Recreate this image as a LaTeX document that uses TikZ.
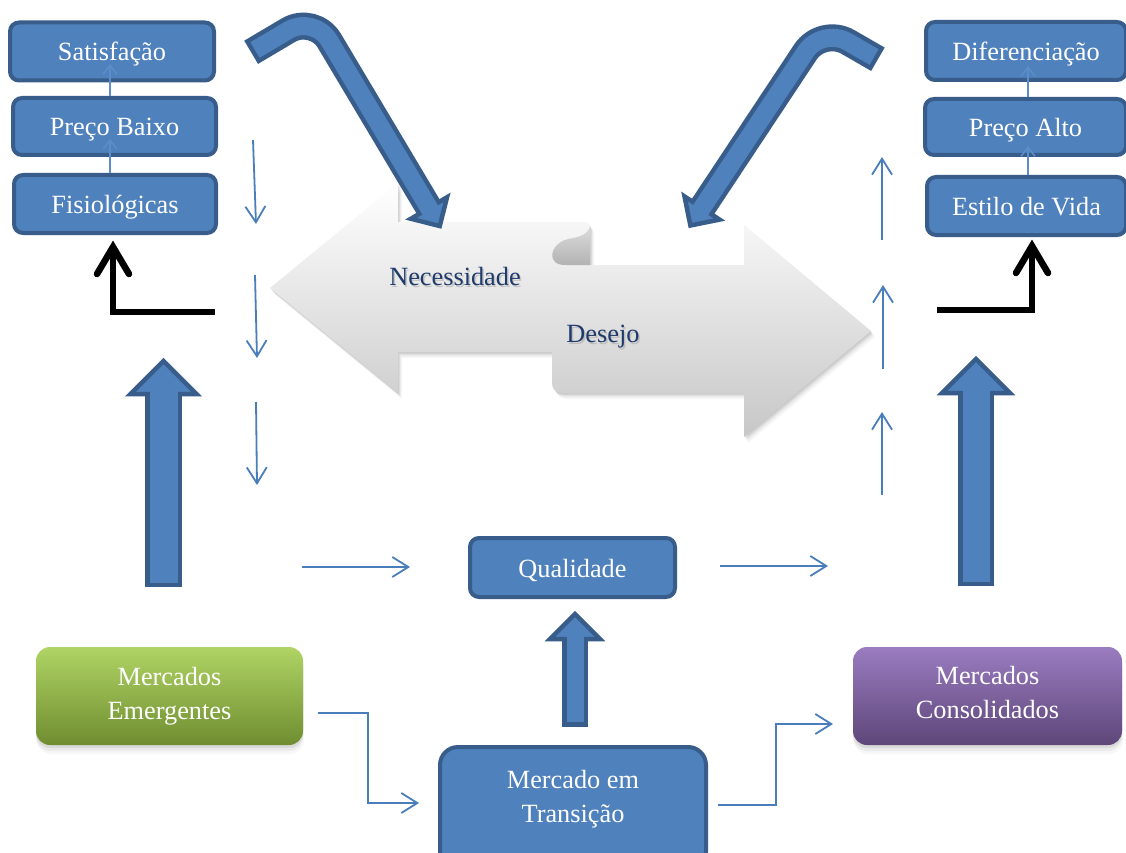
\documentclass[tikz,border=0pt]{standalone}
\usepackage{fontspec}
\setmainfont{Liberation Serif}
\usetikzlibrary{arrows.meta,calc,shadows}

\definecolor{fillblue}{HTML}{4F81BD}
\definecolor{bordblue}{HTML}{385D8A}
\definecolor{thinblue}{HTML}{4A7EBB}
\definecolor{faintblue}{HTML}{5B8DCA}
\definecolor{darktext}{HTML}{1F3B6B}
\definecolor{greentop}{HTML}{B0D465}
\definecolor{greenmid}{HTML}{9BBB59}
\definecolor{greenbot}{HTML}{6F8D30}
\definecolor{purptop}{HTML}{9A7CC0}
\definecolor{purpmid}{HTML}{8064A2}
\definecolor{purpbot}{HTML}{5E4679}

\newcommand\boxfont{\fontsize{26.3}{34}\selectfont}

\tikzset{
  bluebox/.style={draw=bordblue, fill=fillblue, line width=4pt, rounded corners=9pt,
    text=white, font=\boxfont, align=center, inner sep=0pt},
  oneline/.style={text height=24pt, text depth=5pt},
  glossshadow/.style={
    drop shadow={shadow xshift=0pt, shadow yshift=-3pt, opacity=0.15},
    drop shadow={shadow xshift=0pt, shadow yshift=-6pt, opacity=0.10},
    drop shadow={shadow xshift=1pt, shadow yshift=-9pt, opacity=0.06}},
  greenbox/.style={glossshadow, rounded corners=14pt, top color=greentop, middle color=greenmid,
    bottom color=greenbot, text=white, font=\boxfont, align=center, inner sep=0pt},
  purplebox/.style={glossshadow, rounded corners=14pt, top color=purptop, middle color=purpmid,
    bottom color=purpbot, inner sep=0pt},
  whitetext/.style={text=white, font=\boxfont, align=center, inner sep=0pt},
  thinarr/.style={draw=thinblue, line width=1.8pt, -{Straight Barb[length=16pt,width=20pt]}},
  innerarr/.style={draw=faintblue, line width=1.6pt, -{Straight Barb[length=9pt,width=14pt]}},
  blackL/.style={draw=black, line width=6.5pt, line join=miter},
  blackLshadow/.style={draw=black!45, opacity=0.45, line width=6.5pt, line join=miter, shift={(2,4)}},
  darklabel/.style={text=darktext, font=\boxfont, inner sep=0pt},
  labelshadow/.style={text=black!40, opacity=0.45, font=\boxfont, inner sep=0pt},
  % outline of the two overlapping light arrows (left-pointing and right-pointing)
  dblpath/.style={insert path={
    (270,288) -- (398,183) -- (398,222) -- (584,222)
      .. controls (588,222) and (590,224) .. (590,229) -- (590,352) -- (398,352) -- (398,393) -- cycle
    (552,265) -- (744,265) -- (744,225) -- (871,331) -- (744,437) -- (744,393) -- (562,393)
      .. controls (556,393) and (552,389) .. (552,383) -- cycle}}
}

% block arrow: #1 tail, #2 bend, #3 head base, #4 head length, #5 shaft width, #6 head half-width
\newcommand\blockarrow[6]{%
  \coordinate (tipcoord) at ($(#3)!-#4pt!(#2)$);
  \draw[draw=bordblue, line width={#5pt+9pt}, rounded corners=30pt]
    ($(#1)!-4.5pt!(#2)$) -- (#2) -- (#3);
  \filldraw[fill=fillblue, draw=bordblue, line width=4.5pt, line join=miter]
    (tipcoord) -- ($(#3)!#6pt!90:(tipcoord)$) -- ($(#3)!#6pt!-90:(tipcoord)$) -- cycle;
  \draw[draw=fillblue, line width=#5pt, rounded corners=30pt]
    (#1) -- (#2) -- ($(#3)!4pt!(tipcoord)$);
}

\begin{document}
\begin{tikzpicture}[x=1pt,y=-1pt]
\useasboundingbox (0,0) rectangle (1126,853);
\clip (0,0) rectangle (1126,853);
\fill[white] (0,0) rectangle (1126,853);

% ---- light double arrow: Necessidade / Desejo ----
\foreach \s/\o in {1/0.05,2/0.05,3/0.05,4.5/0.04,6/0.03}
  {\fill[black, opacity=\o, shift={(\s*0.7,\s)}, dblpath];}
\shade[top color=white, bottom color=black!22, dblpath];
% rolled corner of the upper arrow
\shade[top color=black!14, bottom color=black!30]
  (590,227) .. controls (586,236) and (578,237) .. (568,239)
  .. controls (556,242) and (550,252) .. (553,259)
  .. controls (555,264) and (560,265) .. (566,265) -- (590,265) -- cycle;

\node[labelshadow] (necsh) at (456.5,279) {Necessidade};
\node[darklabel] (nec) at (455,277) {Necessidade};
\node[labelshadow] (dessh) at (604.5,339) {Desejo};
\node[darklabel] (des) at (603,337) {Desejo};

% ---- stacked boxes, left ----
\node[bluebox, oneline, minimum width=204pt, minimum height=58pt] (sat) at (112,51.5) {Satisfação};
\node[bluebox, oneline, minimum width=203pt, minimum height=57pt] (pb) at (114.5,126.5) {Preço Baixo};
\node[bluebox, oneline, minimum width=202pt, minimum height=58pt] (fis) at (115,204) {Fisiológicas};
\coordinate (lc1) at (110,173); \coordinate (lc1t) at (110,139);
\coordinate (lc2) at (110,96);  \coordinate (lc2t) at (110,64);
\draw[innerarr] (lc1) -- (lc1t);
\draw[innerarr] (lc2) -- (lc2t);

% ---- stacked boxes, right ----
\node[bluebox, oneline, minimum width=200pt, minimum height=58pt] (dif) at (1026,51) {Diferenciação};
\node[bluebox, oneline, minimum width=201pt, minimum height=56pt] (pa) at (1025.5,127) {Preço Alto};
\node[bluebox, oneline, minimum width=199pt, minimum height=58pt] (ev) at (1026.5,206) {Estilo de Vida};
\coordinate (rc1) at (1028,175); \coordinate (rc1t) at (1028,146);
\coordinate (rc2) at (1028,97);  \coordinate (rc2t) at (1028,66);
\draw[innerarr] (rc1) -- (rc1t);
\draw[innerarr] (rc2) -- (rc2t);

% ---- bent block arrows ----
\coordinate (lbT) at (255,50); \coordinate (lbB) at (314,15); \coordinate (lbH) at (429,208);
\blockarrow{lbT}{lbB}{lbH}{21}{18}{21}
\coordinate (rbT) at (874,57); \coordinate (rbB) at (822,27); \coordinate (rbH) at (702,208);
\blockarrow{rbT}{rbB}{rbH}{21}{18}{21}

% ---- big upward block arrows ----
\coordinate (luT) at (163.5,582.5); \coordinate (luM) at (163.5,490); \coordinate (luH) at (163.5,394);
\blockarrow{luT}{luM}{luH}{33}{28}{33}
\coordinate (ruT) at (976,581.5); \coordinate (ruM) at (976,490); \coordinate (ruH) at (976,393);
\blockarrow{ruT}{ruM}{ruH}{34}{27}{34}

% ---- black elbow arrows ----
\coordinate (lLa) at (215,312); \coordinate (lLb) at (113,312); \coordinate (lLc) at (113,247);
\draw[blackLshadow] (lLa) -- (lLb) -- (lLc);
\draw[blackLshadow, line cap=round] ($(lLc)+(-16,27)$) -- (lLc) -- ($(lLc)+(16,27)$);
\draw[blackL] (lLa) -- (lLb) -- (lLc);
\draw[blackL, line cap=round] ($(lLc)+(-16,27)$) -- (lLc) -- ($(lLc)+(16,27)$);

\coordinate (rLa) at (937,310); \coordinate (rLb) at (1032,310); \coordinate (rLc) at (1032,246);
\draw[blackLshadow] (rLa) -- (rLb) -- (rLc);
\draw[blackLshadow, line cap=round] ($(rLc)+(-16,27)$) -- (rLc) -- ($(rLc)+(16,27)$);
\draw[blackL] (rLa) -- (rLb) -- (rLc);
\draw[blackL, line cap=round] ($(rLc)+(-16,27)$) -- (rLc) -- ($(rLc)+(16,27)$);

% ---- thin arrows: downward column (left) ----
\coordinate (d1a) at (253,140); \coordinate (d1b) at (256,224);
\coordinate (d2a) at (255,275); \coordinate (d2b) at (257,358);
\coordinate (d3a) at (256,402); \coordinate (d3b) at (257,485);
\draw[thinarr] (d1a) -- (d1b);
\draw[thinarr] (d2a) -- (d2b);
\draw[thinarr] (d3a) -- (d3b);

% ---- thin arrows: upward column (right) ----
\coordinate (u1a) at (882,240); \coordinate (u1b) at (882,157);
\coordinate (u2a) at (883,369); \coordinate (u2b) at (883,285);
\coordinate (u3a) at (882,495); \coordinate (u3b) at (882,412);
\draw[thinarr] (u1a) -- (u1b);
\draw[thinarr] (u2a) -- (u2b);
\draw[thinarr] (u3a) -- (u3b);

% ---- quality row ----
\node[bluebox, oneline, minimum width=205pt, minimum height=59pt] (qual) at (572.5,567.5) {Qualidade};
\coordinate (h1a) at (302,567); \coordinate (h1b) at (410,567);
\coordinate (h2a) at (720,566); \coordinate (h2b) at (828,566);
\draw[thinarr] (h1a) -- (h1b);
\draw[thinarr] (h2a) -- (h2b);

% ---- markets ----
\node[bluebox, rounded corners=18pt, minimum width=266pt, minimum height=123pt] (trans) at (573,808.5) {};
\node[whitetext] (transtxt) at (573,799.5) {Mercado em\\Transição};
\coordinate (quT) at (575,722); \coordinate (quM) at (575,680); \coordinate (quH) at (575,639);
\blockarrow{quT}{quM}{quH}{25}{17}{25}

\node[greenbox, minimum width=267pt, minimum height=98pt] (emer) at (169.5,696) {Mercados\\Emergentes};
\node[purplebox, minimum width=269pt, minimum height=98pt] (cons) at (987.5,696) {};
\node[whitetext] (constxt) at (987.5,692) {Mercados\\Consolidados};

\coordinate (e1a) at (318,713); \coordinate (e1b) at (368,713);
\coordinate (e1c) at (368,803); \coordinate (e1d) at (419,803);
\draw[thinarr] (e1a) -- (e1b) -- (e1c) -- (e1d);
\coordinate (e2a) at (718,805); \coordinate (e2b) at (776,805);
\coordinate (e2c) at (776,724); \coordinate (e2d) at (833,724);
\draw[thinarr] (e2a) -- (e2b) -- (e2c) -- (e2d);

\end{tikzpicture}
\end{document}
